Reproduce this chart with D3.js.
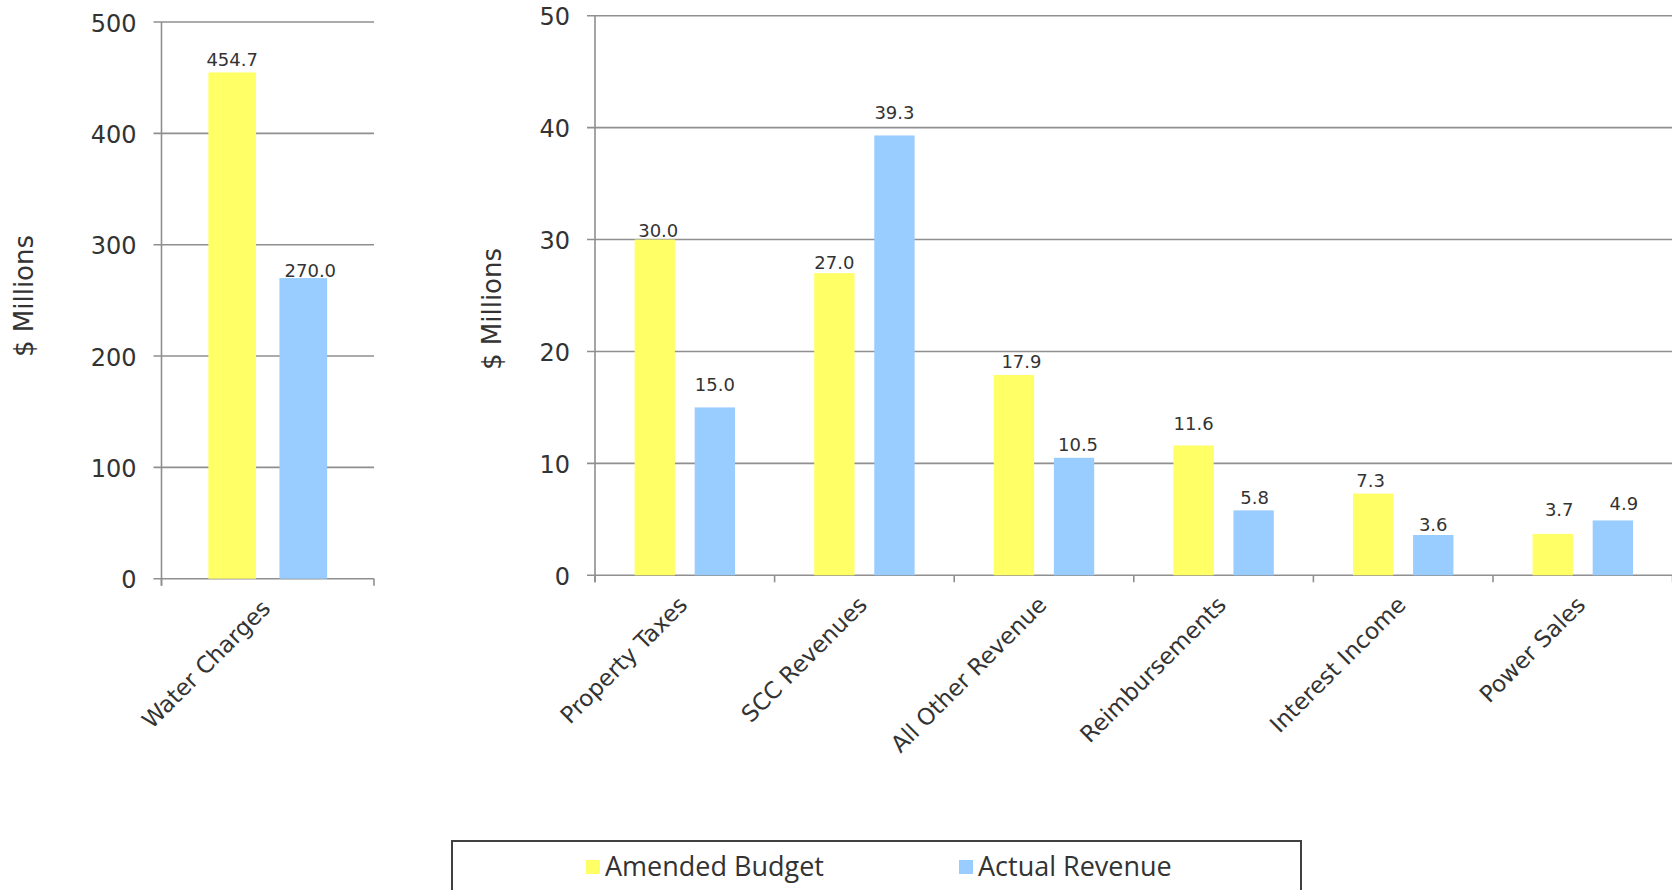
<!DOCTYPE html>
<html>
<head>
<meta charset="utf-8">
<script src="https://cdn.jsdelivr.net/npm/d3@7"></script>
<style>
  body { margin: 0; background: #fff; }
  text { font-family: "DejaVu Sans", sans-serif; fill: #333; }
</style>
</head>
<body>
<svg id="chart" width="1672" height="890"></svg>
<script>
// Revenue by source, $ millions
const series = ["Amended Budget", "Actual Revenue"];
const seriesColors = ["#FFFF66", "#99CCFF"];

const waterCategories = ["Water Charges"];
const waterBudget = [454.7];
const waterActual = [270.0];
const waterTicks = [0, 100, 200, 300, 400, 500];

const otherCategories = ["Property Taxes", "SCC Revenues", "All Other Revenue",
                         "Reimbursements", "Interest Income", "Power Sales"];
const otherBudget = [30.0, 27.0, 17.9, 11.6, 7.3, 3.7];
const otherActual = [15.0, 39.3, 10.5, 5.8, 3.6, 4.9];
const otherTicks = [0, 10, 20, 30, 40, 50];

const axisTitle = "$ Millions";
const gridColor = "#8f8f8f";

// hand-placed value label nudges, [dx, gap above bar] in px, per series
const waterLabelNudge = [[[0, 6]], [[7, 1.5]]];
const otherLabelNudge = [
  [[3.5, 3], [0, 4], [7.5, 7], [0, 15], [-2.5, 6.5], [6.5, 17.5]],
  [[0, 16.5], [0, 16.5], [4, 6.5], [1, 6.5], [0, 4], [11, 10.5]]
];

const svg = d3.select("#chart");

function drawPanel(cfg) {
  const { categories, budget, actual, ticks, nudge, left, right, top, bottom, titleX, titleY } = cfg;
  const rows = categories.map((c, i) => ({ cat: c, ci: i, values: [budget[i], actual[i]] }));

  const y = d3.scaleLinear().domain([0, d3.max(ticks)]).range([bottom, top]);
  const x0 = d3.scaleBand().domain(categories).range([left, right]).padding(0);
  const x1 = d3.scaleBand().domain(series).range([0, x0.bandwidth()])
    .paddingInner(0.329).paddingOuter(0.659);

  const g = svg.append("g");

  // horizontal gridlines (drawn past the axis as tick marks)
  g.append("g").selectAll("line").data(ticks).join("line")
    .attr("x1", left - 8).attr("x2", right)
    .attr("y1", d => y(d)).attr("y2", d => y(d))
    .attr("stroke", gridColor).attr("stroke-width", 1.6);

  // value axis: tick labels
  const yAxis = g.append("g")
    .attr("transform", `translate(${left},0)`)
    .call(d3.axisLeft(y).tickValues(ticks).tickSize(0).tickPadding(25).tickFormat(d3.format("d")));
  yAxis.select(".domain").remove();
  yAxis.selectAll("text")
    .attr("font-size", 24).attr("font-family", "DejaVu Sans").attr("fill", "#333")
    .attr("dy", "0.38em");

  // vertical axis line
  g.append("line")
    .attr("x1", left).attr("x2", left)
    .attr("y1", y(d3.max(ticks))).attr("y2", bottom + 7)
    .attr("stroke", gridColor).attr("stroke-width", 1.6);

  // category boundary ticks
  const bounds = categories.map(c => x0(c)).concat([right]);
  g.append("g").selectAll("line").data(bounds).join("line")
    .attr("x1", d => d).attr("x2", d => d)
    .attr("y1", bottom).attr("y2", bottom + 7)
    .attr("stroke", gridColor).attr("stroke-width", 1.6);

  // bars
  const groups = g.append("g").selectAll("g").data(rows).join("g")
    .attr("transform", d => `translate(${x0(d.cat)},0)`);

  groups.selectAll("rect")
    .data(d => d.values.map((v, i) => ({ key: series[i], value: v, idx: i })))
    .join("rect")
    .attr("x", d => x1(d.key))
    .attr("width", x1.bandwidth())
    .attr("y", d => y(d.value))
    .attr("height", d => bottom - y(d.value))
    .attr("fill", d => seriesColors[d.idx]);

  // value labels
  groups.selectAll("text")
    .data(d => d.values.map((v, i) => ({ key: series[i], value: v, n: nudge[i][d.ci] })))
    .join("text")
    .attr("x", d => x1(d.key) + x1.bandwidth() / 2 + d.n[0])
    .attr("y", d => y(d.value) - d.n[1])
    .attr("text-anchor", "middle")
    .attr("font-size", 18)
    .text(d => d3.format(".1f")(d.value));

  // rotated category labels
  g.append("g").selectAll("text").data(categories).join("text")
    .attr("text-anchor", "end")
    .attr("font-size", 23)
    .attr("transform", c => `translate(${x0(c) + x0.bandwidth() / 2 + 4},${bottom + 31}) rotate(-45)`)
    .text(c => c);

  // value axis title
  g.append("text")
    .attr("text-anchor", "middle")
    .attr("font-size", 26)
    .attr("transform", `translate(${titleX},${titleY}) rotate(-90)`)
    .text(axisTitle);
}

drawPanel({
  categories: waterCategories, budget: waterBudget, actual: waterActual, ticks: waterTicks,
  nudge: waterLabelNudge,
  left: 161.5, right: 374, top: 22, bottom: 578.7, titleX: 33, titleY: 296
});

drawPanel({
  categories: otherCategories, budget: otherBudget, actual: otherActual, ticks: otherTicks,
  nudge: otherLabelNudge,
  left: 595, right: 1672.6, top: 15.7, bottom: 575.3, titleX: 501, titleY: 309
});

// legend
const legend = svg.append("g");
legend.append("rect")
  .attr("x", 452).attr("y", 841).attr("width", 849).attr("height", 80)
  .attr("fill", "none").attr("stroke", "#404040").attr("stroke-width", 2);

const legendX = d3.scaleOrdinal().domain(series).range([586, 959]);
const items = legend.selectAll("g.item").data(series).join("g").attr("class", "item")
  .attr("transform", d => `translate(${legendX(d)},860)`);
items.append("rect").attr("width", 14).attr("height", 14)
  .attr("fill", (d, i) => seriesColors[i]);
items.append("text")
  .attr("x", 19).attr("y", 16)
  .style("font-family", "'Open Sans', sans-serif")
  .attr("font-size", 27)
  .text(d => d);
</script>
</body>
</html>
